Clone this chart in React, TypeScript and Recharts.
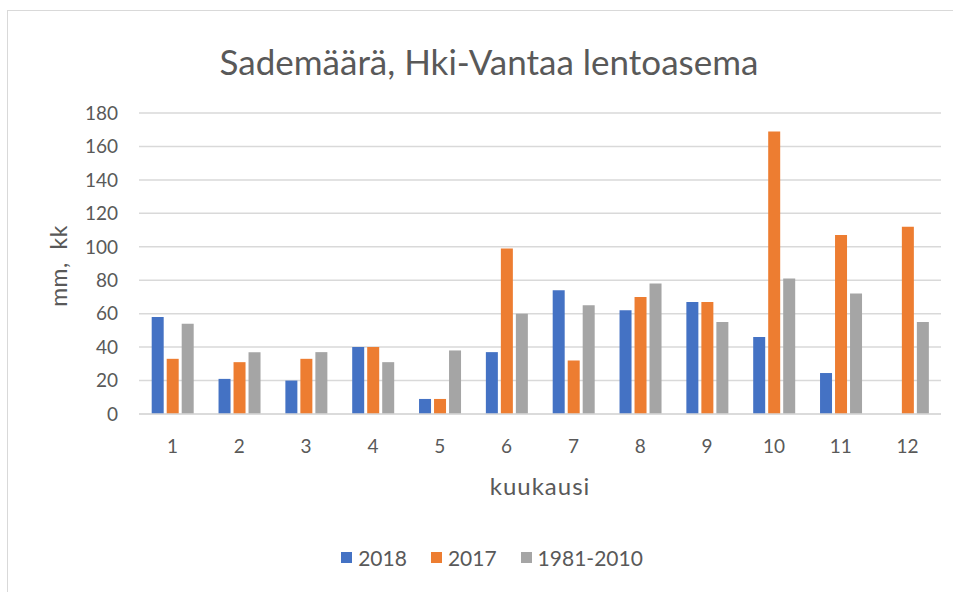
import React from 'react';
import { BarChart, Bar, XAxis, YAxis, CartesianGrid, Legend } from 'recharts';

const months = ['1', '2', '3', '4', '5', '6', '7', '8', '9', '10', '11', '12'];
const rain2018 = [58, 21, 20, 40, 9, 37, 74, 62, 67, 46, 24.5, null];
const rain2017 = [33, 31, 33, 40, 9, 99, 32, 70, 67, 169, 107, 112];
const rainNormal = [54, 37, 37, 31, 38, 60, 65, 78, 55, 81, 72, 55];
const yTicks = [0, 20, 40, 60, 80, 100, 120, 140, 160, 180];

const seriesNames = ['2018', '2017', '1981-2010'];
const seriesColors = ['#4472C4', '#ED7D31', '#A5A5A5'];

const data = months.map((m, i) => ({
  month: m,
  s2018: rain2018[i],
  s2017: rain2017[i],
  sNormal: rainNormal[i],
}));

const FONT = 'Lato, "Open Sans", sans-serif';
const TEXT = '#595959';

const LegendContent = () => (
  <div style={{ display: 'flex', justifyContent: 'center', alignItems: 'center', height: 26, fontFamily: FONT, fontSize: 21, color: TEXT }}>
    {seriesNames.map((name, i) => (
      <div key={name} style={{ display: 'flex', alignItems: 'center', marginRight: i < seriesNames.length - 1 ? 24 : 0 }}>
        <div style={{ width: 11, height: 11, background: seriesColors[i], marginRight: 6 }} />
        <span>{name}</span>
      </div>
    ))}
  </div>
);

export default function App() {
  return (
    <div style={{ position: 'absolute', left: 0, top: 0, width: 953, height: 592, background: '#fff', overflow: 'hidden' }}>
      <div style={{ position: 'absolute', left: 7, top: 10, right: 0, bottom: 0, borderTop: '1.5px solid #d9d9d9', borderLeft: '1.5px solid #d9d9d9' }} />
      <div style={{ position: 'absolute', left: 0, width: 978, top: 40, textAlign: 'center', fontFamily: FONT, fontSize: 35, color: TEXT, lineHeight: '42px' }}>
        Sademäärä, Hki-Vantaa lentoasema
      </div>
      <div style={{ position: 'absolute', left: 340, width: 400, top: 471, textAlign: 'center', fontFamily: FONT, fontSize: 24, letterSpacing: 1, color: TEXT, lineHeight: '29px' }}>
        kuukausi
      </div>
      <div style={{ position: 'absolute', left: 58 - 100, top: 266 - 14, width: 200, height: 28, textAlign: 'center', fontFamily: FONT, fontSize: 23, letterSpacing: 0.5, color: TEXT, lineHeight: '28px', whiteSpace: 'pre', transform: 'rotate(-90deg)' }}>
        {'mm,  kk'}
      </div>
      <div style={{ position: 'absolute', left: 0, top: 0 }}>
        <BarChart
          width={953}
          height={592}
          data={data}
          margin={{ top: 113, right: 12, bottom: 122, left: 0 }}
          barCategoryGap="19%"
          barGap={3}
        >
          <CartesianGrid vertical={false} stroke="#d9d9d9" strokeWidth={1.5} />
          <XAxis
            dataKey="month"
            height={30}
            axisLine={{ stroke: '#d9d9d9', strokeWidth: 1.5 }}
            tickLine={false}
            tickSize={8}
            tickMargin={18}
            tick={{ fill: TEXT, fontSize: 19, fontFamily: FONT }}
            interval={0}
          />
          <YAxis
            width={139}
            domain={[0, 180]}
            ticks={yTicks}
            axisLine={false}
            tickLine={false}
            tickSize={8}
            tickMargin={13}
            tick={{ fill: TEXT, fontSize: 19, fontFamily: FONT }}
          />
          <Legend
            content={<LegendContent />}
            wrapperStyle={{ position: 'absolute', left: 0, width: 984, top: 544, height: 26 }}
          />
          <Bar dataKey="s2018" name={seriesNames[0]} fill={seriesColors[0]} isAnimationActive={false} />
          <Bar dataKey="s2017" name={seriesNames[1]} fill={seriesColors[1]} isAnimationActive={false} />
          <Bar dataKey="sNormal" name={seriesNames[2]} fill={seriesColors[2]} isAnimationActive={false} />
        </BarChart>
      </div>
    </div>
  );
}
